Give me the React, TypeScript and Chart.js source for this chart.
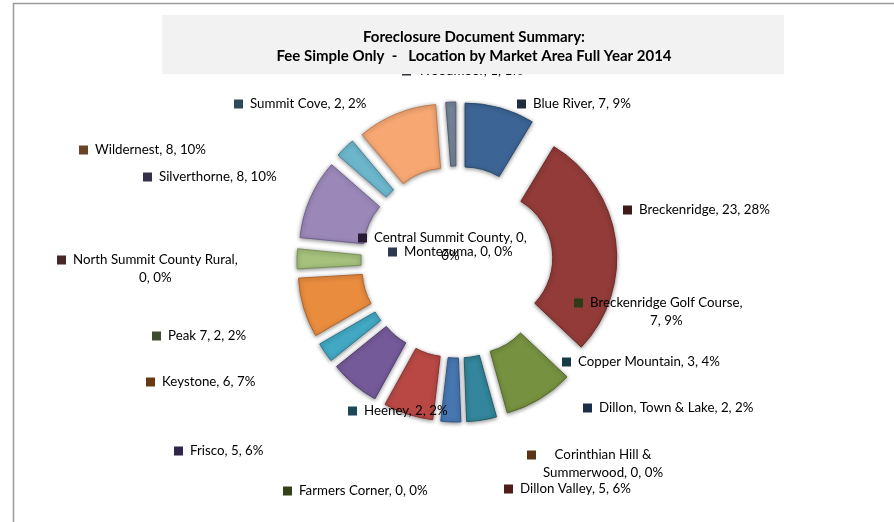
import React, { useEffect, useRef } from "react";
import { Chart, registerables } from "chart.js";

Chart.register(...registerables);

// ---- data ----
const categories = [
  "Blue River",
  "Breckenridge",
  "Breckenridge Golf Course",
  "Central Summit County",
  "Copper Mountain",
  "Corinthian Hill & Summerwood",
  "Dillon, Town & Lake",
  "Dillon Valley",
  "Farmers Corner",
  "Frisco",
  "Heeney",
  "Keystone",
  "Montezuma",
  "North Summit County Rural",
  "Peak 7",
  "Silverthorne",
  "Summit Cove",
  "Wildernest",
  "Woodmoor",
];
const counts = [7, 23, 7, 0, 3, 0, 2, 5, 0, 5, 2, 6, 0, 0, 2, 8, 2, 8, 1];
const titleLines = [
  "Foreclosure Document Summary:",
  "Fee Simple Only  -   Location by Market Area Full Year 2014",
];

// ---- styles ----
const sliceColors = [
  "#3C6595", "#923B39", "#76913F", "#5B4A78", "#33869B", "#8A5A2E",
  "#4777B1", "#B94845", "#5F7330", "#745A99", "#42A8C3", "#EA8C3E",
  "#4A5B75", "#7A3E3E", "#A5C17C", "#9B88B9", "#6CB6CB", "#F6A772", "#76849A",
];
const sliceBorders = [
  "#2A4A70", "#6E2A28", "#56692C", "#40345A", "#245F6F", "#60401F",
  "#33578A", "#8A3331", "#445223", "#523F70", "#2E7A8F", "#B0662A",
  "#344155", "#582C2C", "#7C925A", "#716390", "#4C8697", "#C07C50", "#535E70",
];
const markerColors = [
  "#1E2C40", "#3D1918", "#2E3A18", "#261C33", "#163B45", "#5A3514",
  "#1C2E48", "#4E1D1C", "#36411A", "#30254A", "#1B4955", "#683A14",
  "#2C394C", "#4A2727", "#3E4C2B", "#36304A", "#2C4D57", "#6A4426", "#2F3541",
];

// label layout: marker left x, first-line centre y, wrap width (px)
const labelLayout: Record<string, { x: number; y: number; wrap?: number }> = {
  "Blue River": { x: 517, y: 104 },
  "Breckenridge": { x: 623, y: 210 },
  "Breckenridge Golf Course": { x: 574, y: 303, wrap: 166 },
  "Central Summit County": { x: 358, y: 238, wrap: 165 },
  "Copper Mountain": { x: 562, y: 362 },
  "Corinthian Hill & Summerwood": { x: 527, y: 455, wrap: 130 },
  "Dillon, Town & Lake": { x: 583, y: 408 },
  "Dillon Valley": { x: 504, y: 489 },
  "Farmers Corner": { x: 283, y: 491 },
  "Frisco": { x: 174, y: 451 },
  "Heeney": { x: 348, y: 411 },
  "Keystone": { x: 146, y: 382 },
  "Montezuma": { x: 388, y: 252 },
  "North Summit County Rural": { x: 57, y: 260, wrap: 172 },
  "Peak 7": { x: 152, y: 336 },
  "Silverthorne": { x: 143, y: 177 },
  "Summit Cove": { x: 234, y: 104 },
  "Wildernest": { x: 79, y: 150 },
  "Woodmoor": { x: 402, y: 71 },
};

const FONT = "Lato, 'Open Sans', sans-serif";
const EXPLODE = 30;

function wrapText(ctx: CanvasRenderingContext2D, text: string, maxW?: number): string[] {
  if (!maxW) return [text];
  const words = text.split(" ");
  const lines: string[] = [];
  let cur = "";
  for (const w of words) {
    const test = cur ? cur + " " + w : w;
    if (cur && ctx.measureText(test).width > maxW) {
      lines.push(cur);
      cur = w;
    } else cur = test;
  }
  if (cur) lines.push(cur);
  return lines;
}

const explodePlugin = {
  id: "explodeArcs",
  beforeDatasetDraw(chart: any, args: any) {
    const ctx: CanvasRenderingContext2D = chart.ctx;
    args.meta.data.forEach((arc: any) => {
      const { startAngle, endAngle } = arc.getProps(["startAngle", "endAngle"], true);
      if (endAngle - startAngle <= 0) return;
      const mid = (startAngle + endAngle) / 2;
      ctx.save();
      ctx.translate(Math.cos(mid) * EXPLODE, Math.sin(mid) * EXPLODE);
      ctx.shadowColor = "rgba(0,0,0,0.45)";
      ctx.shadowBlur = 4;
      ctx.shadowOffsetX = 0;
      ctx.shadowOffsetY = 1;
      arc.draw(ctx);
      ctx.restore();
    });
    return false;
  },
};

const decorPlugin = {
  id: "decor",
  beforeDraw(chart: any) {
    const ctx: CanvasRenderingContext2D = chart.ctx;
    ctx.save();
    ctx.fillStyle = "#ffffff";
    ctx.fillRect(0, 0, chart.width, chart.height);
    ctx.strokeStyle = "#9a9a9a";
    ctx.lineWidth = 1.5;
    ctx.beginPath();
    ctx.moveTo(13.5, chart.height);
    ctx.lineTo(13.5, 3.5);
    ctx.lineTo(chart.width, 3.5);
    ctx.stroke();
    ctx.restore();
  },
  afterDraw(chart: any) {
    const ctx: CanvasRenderingContext2D = chart.ctx;
    const total = counts.reduce((a, b) => a + b, 0);
    ctx.save();
    ctx.font = `13.3px ${FONT}`;
    ctx.textBaseline = "middle";
    const lineH = 18;
    categories.forEach((name, i) => {
      const lay = labelLayout[name];
      if (!lay) return;
      const pct = Math.round((counts[i] / total) * 100);
      const text = `${name}, ${counts[i]}, ${pct}%`;
      const lines = wrapText(ctx, text, lay.wrap);
      const widths = lines.map((l) => ctx.measureText(l).width);
      const blockW = Math.max(...widths);
      ctx.fillStyle = markerColors[i];
      ctx.fillRect(lay.x, lay.y - 4.5, 9, 9);
      const tx = lay.x + 16;
      ctx.fillStyle = "#000000";
      ctx.textAlign = "center";
      lines.forEach((l, k) => {
        ctx.fillText(l, tx + blockW / 2, lay.y + k * lineH);
      });
    });
    // title box
    ctx.fillStyle = "#F2F2F2";
    ctx.fillRect(162, 15, 622, 59);
    ctx.fillStyle = "#000000";
    ctx.font = `bold 15px ${FONT}`;
    ctx.textAlign = "center";
    ctx.fillText(titleLines[0], 474, 37);
    ctx.fillText(titleLines[1], 474, 56);
    ctx.restore();
  },
};

export default function App() {
  const ref = useRef<HTMLCanvasElement>(null);
  useEffect(() => {
    if (!ref.current) return;
    const chart = new Chart(ref.current, {
      type: "doughnut",
      data: {
        labels: categories,
        datasets: [
          {
            data: counts,
            backgroundColor: sliceColors,
            borderColor: sliceBorders,
            borderWidth: 1,
            offset: 0,
          },
        ],
      },
      options: {
        animation: false,
        responsive: false,
        radius: 130,
        cutout: "50.8%",
        layout: { padding: { left: 20, right: 0, top: 2, bottom: 0 } },
        plugins: {
          legend: { display: false },
          title: { display: false },
          tooltip: { enabled: false },
        },
      } as any,
      plugins: [decorPlugin, explodePlugin],
    });
    return () => chart.destroy();
  }, []);
  return (
    <div style={{ position: "fixed", left: 0, top: 0, width: 894, height: 522, background: "#fff" }}>
      <canvas ref={ref} width={894} height={522} style={{ width: 894, height: 522, display: "block" }} />
    </div>
  );
}
